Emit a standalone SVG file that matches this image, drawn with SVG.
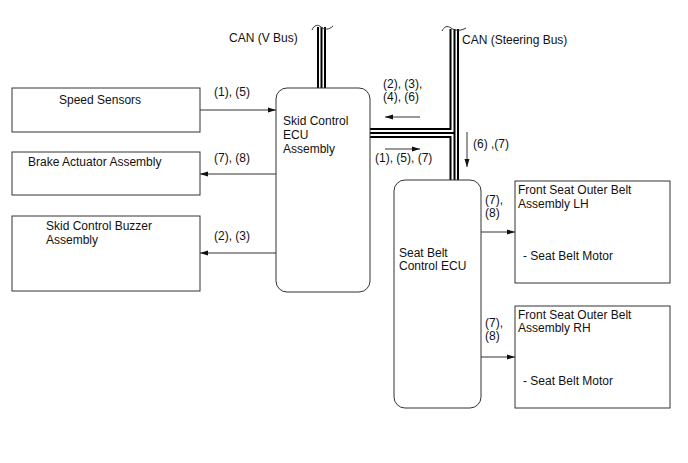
<svg xmlns="http://www.w3.org/2000/svg" width="688" height="463" viewBox="0 0 688 463">
<style>
text{font-family:"Liberation Sans",Arial,sans-serif;font-size:12px;fill:#111}
.box{fill:#fff;stroke:#333;stroke-width:1}
.wire{fill:none;stroke:#333;stroke-width:1}
.bus{fill:none;stroke:#000;stroke-width:2}
.cap{fill:none;stroke:#333;stroke-width:1}
</style>
<defs>
<marker id="ah" viewBox="0 0 8 6" refX="8" refY="3" markerWidth="8" markerHeight="6" markerUnits="userSpaceOnUse" orient="auto">
<path d="M0,0.5 L8,3 L0,5.5 Z" fill="#111"/>
</marker>
</defs>
<rect width="688" height="463" fill="#fff"/>

<g id="connectors">
<!-- V bus -->
<path class="bus" d="M318,27V88 M321.5,27V88 M325,27V88"/>
<path class="cap" d="M312,30 C314,25 318,24 321,27 C324,30 329,30 333,26"/>
<!-- Steering bus -->
<path class="bus" d="M450.5,29V129H370 M454.5,29V181 M458,29V181 M370,133H454.5 M370,137H450.5V181"/>
<path class="cap" d="M442,31 C444,27 447,25 451,28 C455,31 461,31 466,28"/>
<!-- left side arrows -->
<line class="wire" x1="200" y1="110" x2="276" y2="110" marker-end="url(#ah)"/>
<line class="wire" x1="276" y1="174" x2="200" y2="174" marker-end="url(#ah)"/>
<line class="wire" x1="276" y1="253" x2="200" y2="253" marker-end="url(#ah)"/>
<!-- bus flow arrows -->
<line class="wire" x1="420" y1="117" x2="385" y2="117" marker-end="url(#ah)"/>
<line class="wire" x1="385" y1="149" x2="420" y2="149" marker-end="url(#ah)"/>
<line class="wire" x1="467" y1="132" x2="467" y2="167" marker-end="url(#ah)"/>
<!-- right side arrows -->
<line class="wire" x1="481" y1="232" x2="515" y2="232" marker-end="url(#ah)"/>
<line class="wire" x1="481" y1="357" x2="515" y2="357" marker-end="url(#ah)"/>
</g>

<g id="labels">
<text x="229" y="42">CAN (V Bus)</text>
<text x="462" y="44">CAN (Steering Bus)</text>
<text x="214" y="96">(1), (5)</text>
<text x="214" y="162">(7), (8)</text>
<text x="214" y="240">(2), (3)</text>
<text x="383" y="88">(2), (3),</text>
<text x="383" y="101">(4), (6)</text>
<text x="375" y="162">(1), (5), (7)</text>
<text x="473" y="148">(6) ,(7)</text>
<text x="485" y="204">(7),</text>
<text x="485" y="217">(8)</text>
<text x="485" y="327">(7),</text>
<text x="485" y="340">(8)</text>
</g>

<g id="speed-sensors">
<rect class="box" x="12" y="88" width="188" height="44"/>
<text x="59" y="104">Speed Sensors</text>
</g>
<g id="brake-actuator">
<rect class="box" x="12" y="152" width="188" height="43"/>
<text x="28" y="166">Brake Actuator Assembly</text>
</g>
<g id="buzzer">
<rect class="box" x="12" y="216" width="188" height="75"/>
<text x="46" y="230">Skid Control Buzzer</text>
<text x="46" y="244">Assembly</text>
</g>
<g id="skid-ecu">
<rect class="box" x="276" y="88" width="94" height="204" rx="11"/>
<text x="283" y="125">Skid Control</text>
<text x="283" y="139">ECU</text>
<text x="283" y="153">Assembly</text>
</g>
<g id="seatbelt-ecu">
<rect class="box" x="394" y="180" width="87" height="228" rx="11"/>
<text x="399" y="257">Seat Belt</text>
<text x="399" y="270">Control ECU</text>
</g>
<g id="belt-lh">
<rect class="box" x="515" y="181" width="155" height="102"/>
<text x="518" y="194">Front Seat Outer Belt</text>
<text x="518" y="208">Assembly LH</text>
<text x="523" y="260">- Seat Belt Motor</text>
</g>
<g id="belt-rh">
<rect class="box" x="515" y="306" width="155" height="102"/>
<text x="518" y="319">Front Seat Outer Belt</text>
<text x="518" y="332">Assembly RH</text>
<text x="523" y="385">- Seat Belt Motor</text>
</g>
</svg>
